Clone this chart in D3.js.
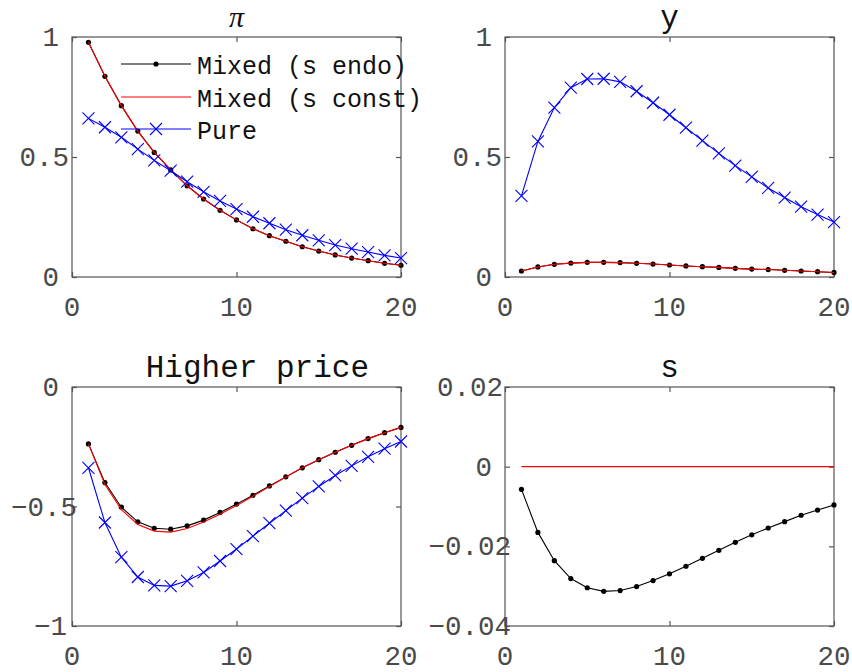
<!DOCTYPE html>
<html>
<head>
<meta charset="utf-8">
<script src="https://cdn.jsdelivr.net/npm/d3@7"></script>
<style>
  html, body { margin: 0; padding: 0; background: #fff; }
  svg { display: block; }
  text { font-family: "Courier New", Courier, "Nimbus Mono PS", FreeMono, "Liberation Mono", monospace; }
</style>
</head>
<body>
<svg id="chart" width="852" height="672"></svg>
<script>
// ---------------- DATA ----------------
const periods = d3.range(1, 21);
const seriesNames = ["Mixed (s endo)", "Mixed (s const)", "Pure"];

const piEndo  = [0.978,0.836,0.714,0.608,0.519,0.446,0.380,0.325,0.278,0.238,0.201,0.172,0.149,0.126,0.108,0.092,0.079,0.068,0.057,0.049];
const piConst = [0.978,0.836,0.714,0.608,0.519,0.446,0.380,0.325,0.278,0.238,0.201,0.172,0.149,0.126,0.108,0.092,0.079,0.068,0.057,0.049];
const piPure  = [0.661,0.624,0.582,0.533,0.486,0.443,0.397,0.355,0.317,0.283,0.251,0.224,0.197,0.174,0.153,0.133,0.118,0.104,0.090,0.079];

const yEndo   = [0.025,0.042,0.053,0.058,0.061,0.061,0.060,0.057,0.054,0.050,0.046,0.043,0.040,0.036,0.033,0.031,0.028,0.025,0.022,0.019];
const yConst  = [0.025,0.042,0.053,0.058,0.061,0.061,0.060,0.057,0.054,0.050,0.046,0.043,0.040,0.036,0.033,0.031,0.028,0.025,0.022,0.019];
const yPure   = [0.338,0.565,0.706,0.789,0.825,0.826,0.813,0.774,0.726,0.676,0.622,0.568,0.515,0.464,0.417,0.371,0.331,0.293,0.260,0.229];

const hpEndo  = [-0.238,-0.400,-0.503,-0.564,-0.591,-0.595,-0.581,-0.557,-0.525,-0.490,-0.453,-0.414,-0.376,-0.338,-0.304,-0.273,-0.244,-0.216,-0.191,-0.169];
const hpConst = [-0.238,-0.408,-0.513,-0.575,-0.603,-0.607,-0.592,-0.565,-0.532,-0.496,-0.457,-0.416,-0.377,-0.338,-0.304,-0.273,-0.244,-0.216,-0.191,-0.169];
const hpPure  = [-0.338,-0.567,-0.712,-0.795,-0.830,-0.833,-0.811,-0.776,-0.728,-0.678,-0.624,-0.570,-0.517,-0.465,-0.416,-0.370,-0.330,-0.292,-0.258,-0.228];

const sEndo   = [-0.0057,-0.0165,-0.0236,-0.0281,-0.0304,-0.0313,-0.0311,-0.0301,-0.0286,-0.0269,-0.0250,-0.0230,-0.0210,-0.0190,-0.0171,-0.0154,-0.0138,-0.0122,-0.0109,-0.0096];
const sConst  = [0,0,0,0,0,0,0,0,0,0,0,0,0,0,0,0,0,0,0,0];

const xTicks = [0, 10, 20];
const titles = ["\u03c0", "y", "Higher price", "s"];
const yDomains = [[0, 1], [0, 1], [-1, 0], [-0.04, 0.02]];
const yTickSets = [[0, 0.5, 1], [0, 0.5, 1], [-1, -0.5, 0], [-0.04, -0.02, 0, 0.02]];
const yTickLabels = [["0","0.5","1"], ["0","0.5","1"], ["\u22121","\u22120.5","0"], ["\u22120.04","\u22120.02","0","0.02"]];
const panelSeries = [
  [piEndo, piConst, piPure],
  [yEndo, yConst, yPure],
  [hpEndo, hpConst, hpPure],
  [sEndo, sConst, null]
];

// ---------------- STYLE / LAYOUT ----------------
const colors = ["#000000", "#ff0000", "#0000ff"];
const axisColor = "#555555";
const labelColor = "#4a4a4a";
const boxes = [
  {x0: 72,  x1: 401, y0: 37,  y1: 277},
  {x0: 505, x1: 834, y0: 37,  y1: 277},
  {x0: 72,  x1: 401, y0: 387, y1: 626},
  {x0: 505, x1: 834, y0: 387, y1: 626}
];

const svg = d3.select("#chart");

// emulate label placement (right-aligned with proportional metrics, drawn monospace)
function labelEndShift(s) {
  let dots = 0, minus = 0, digits = 0;
  for (const ch of s) {
    if (ch === ".") dots++;
    else if (ch === "\u2212") minus++;
    else digits++;
  }
  return -13 + 9 * dots + 8 * minus + 1 * (digits - 1);
}

function xMarker(g, x, y, r, color) {
  g.append("path")
    .attr("d", `M${x - r},${y - r}L${x + r},${y + r}M${x - r},${y + r}L${x + r},${y - r}`)
    .attr("stroke", color).attr("stroke-width", 1.1).attr("fill", "none");
}

boxes.forEach((b, i) => {
  const g = svg.append("g");
  const x = d3.scaleLinear().domain([0, 20]).range([b.x0, b.x1]);
  const y = d3.scaleLinear().domain(yDomains[i]).range([b.y1, b.y0]);

  const clipId = "clip" + i;
  svg.append("clipPath").attr("id", clipId).append("rect")
    .attr("x", b.x0 - 8).attr("y", b.y0 - 8).attr("width", b.x1 - b.x0 + 16).attr("height", b.y1 - b.y0 + 16);

  // box
  g.append("rect").attr("x", b.x0).attr("y", b.y0)
    .attr("width", b.x1 - b.x0).attr("height", b.y1 - b.y0)
    .attr("fill", "#fff").attr("stroke", axisColor).attr("stroke-width", 1.2);

  // axes with inward ticks (bottom/left) and mirrored ticks (top/right)
  const ax = d3.axisBottom(x).tickValues(xTicks).tickSize(-5).tickFormat("");
  const axT = d3.axisTop(x).tickValues(xTicks).tickSize(-5).tickFormat("");
  const ay = d3.axisLeft(y).tickValues(yTickSets[i]).tickSize(-5).tickFormat("");
  const ayR = d3.axisRight(y).tickValues(yTickSets[i]).tickSize(-5).tickFormat("");
  [[ax, `translate(0,${b.y1})`], [axT, `translate(0,${b.y0})`], [ay, `translate(${b.x0},0)`], [ayR, `translate(${b.x1},0)`]]
    .forEach(([a, t]) => {
      const ag = g.append("g").attr("transform", t).call(a);
      ag.select(".domain").remove();
      ag.selectAll("line").attr("stroke", axisColor).attr("stroke-width", 1.2);
    });

  // x tick labels
  g.selectAll(null).data(xTicks).enter().append("text")
    .attr("x", d => x(d)).attr("y", b.y1 + 39)
    .attr("text-anchor", "middle").attr("font-size", 27.5).attr("fill", labelColor)
    .text(d => String(d));

  // y tick labels
  g.selectAll(null).data(yTickSets[i]).enter().append("text")
    .attr("x", (d, k) => b.x0 + labelEndShift(yTickLabels[i][k]))
    .attr("y", d => y(d)).attr("dy", "0.33em")
    .attr("text-anchor", "end").attr("font-size", 27.5).attr("fill", labelColor)
    .text((d, k) => yTickLabels[i][k]);

  // title
  const t = titles[i];
  const cx = (b.x0 + b.x1) / 2;
  if (t === "\u03c0") {
    g.append("text").attr("x", cx).attr("y", b.y0 - 10)
      .attr("text-anchor", "middle").attr("font-size", 30)
      .attr("font-style", "italic")
      .style("font-family", "'Liberation Serif', 'DejaVu Serif', serif")
      .attr("fill", "#111").text(t);
  } else {
    g.append("text").attr("x", cx + (t.length - 1) * 1.9).attr("y", b.y0 - 10)
      .attr("text-anchor", "middle").attr("font-size", 31).attr("fill", "#111")
      .text(t);
  }

  // series
  const line = d3.line().x((d, k) => x(periods[k])).y(d => y(d));
  const pg = g.append("g").attr("clip-path", `url(#${clipId})`);
  panelSeries[i].forEach((vals, si) => {
    if (!vals) return;
    pg.append("path").datum(vals).attr("d", line)
      .attr("fill", "none").attr("stroke", colors[si]).attr("stroke-width", 1.1);
    if (si === 0) {
      pg.selectAll(null).data(vals).enter().append("circle")
        .attr("cx", (d, k) => x(periods[k])).attr("cy", d => y(d)).attr("r", 2.6)
        .attr("fill", colors[0]);
    } else if (si === 2) {
      vals.forEach((d, k) => xMarker(pg, x(periods[k]), y(d), 6, colors[2]));
    }
  });
});

// legend in first panel
const lg = svg.append("g");
const legendRows = [64, 97, 129];
seriesNames.forEach((name, si) => {
  const ry = legendRows[si];
  lg.append("line").attr("x1", 121).attr("x2", 191).attr("y1", ry).attr("y2", ry)
    .attr("stroke", colors[si]).attr("stroke-width", 1.1);
  if (si === 0) {
    lg.append("circle").attr("cx", 156).attr("cy", ry).attr("r", 2.6).attr("fill", colors[0]);
  } else if (si === 2) {
    xMarker(lg, 156, ry, 6, colors[2]);
  }
  lg.append("text").attr("x", 197).attr("y", ry + 10)
    .attr("font-size", 25).attr("fill", "#111").text(name);
});
</script>
</body>
</html>
